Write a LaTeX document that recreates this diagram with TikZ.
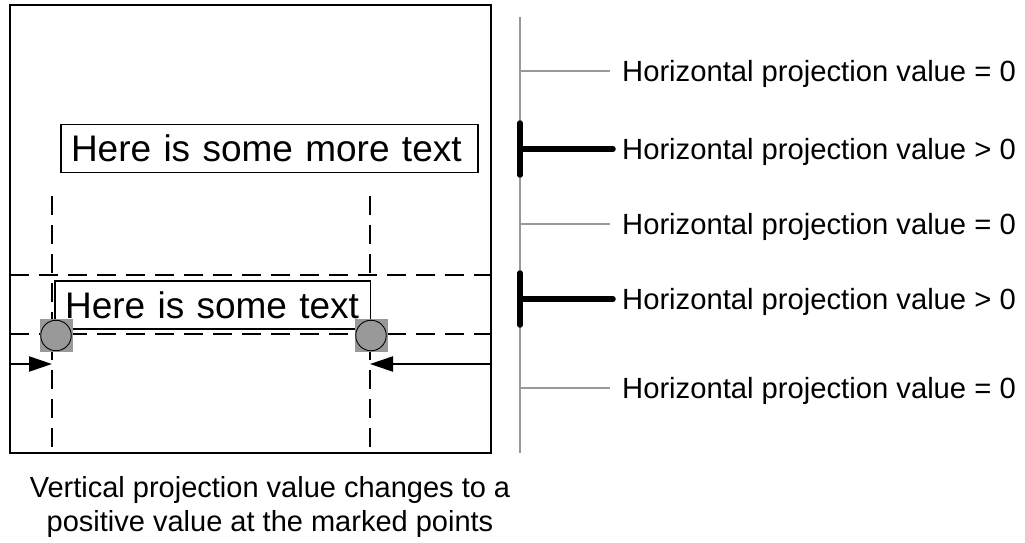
\documentclass[tikz,border=0pt]{standalone}
\usepackage{fontspec}
\setmainfont{Liberation Sans}
\usetikzlibrary{arrows.meta}
\begin{document}
\begin{tikzpicture}[x=1pt,y=-1pt,
  lbl/.style={anchor=base west,inner sep=0pt,font=\fontsize{29.2}{34}\selectfont},
  bigbox/.style={draw,line width=1.4pt,inner ysep=0pt,inner xsep=10pt,align=left,minimum height=48pt,font=\fontsize{37}{40}\selectfont},
  dashline/.style={line width=2.6pt,dash pattern=on 19pt off 10pt},
  grayline/.style={draw=black!40,line width=1.1pt},
  thick T/.style={line width=5.5pt,line cap=round},
  marker/.style={draw=none,fill=black!40,minimum size=33pt,inner sep=0pt},
  dot/.style={circle,draw=black,line width=0.9pt,fill=black!40,minimum size=30.5pt,inner sep=0pt},
  arr/.style={line width=2.2pt,-{Triangle[length=23pt,width=15pt]}}]
\useasboundingbox (0,0) rectangle (1025,542);
% main frame
\draw[line width=1.6pt] (10,5) rectangle (491,453);
% vertical gray axis
\coordinate (axtop) at (520,17);
\coordinate (axbot) at (520,453);
\draw[grayline] (axtop) -- (axbot);
% labels
\node[lbl] (l1) at (622,81) {Horizontal projection value = 0};
\node[lbl] (l2) at (622,159) {Horizontal projection value > 0};
\node[lbl] (l3) at (622,234) {Horizontal projection value = 0};
\node[lbl] (l4) at (622,309) {Horizontal projection value > 0};
\node[lbl] (l5) at (622,398) {Horizontal projection value = 0};
% thin gray ticks
\coordinate (a1) at (520,71);
\coordinate (a3) at (520,224);
\coordinate (a5) at (520,388);
\draw[grayline] (a1) -- ([xshift=-12pt,yshift=10pt]l1.base west);
\draw[grayline] (a3) -- ([xshift=-12pt,yshift=10pt]l3.base west);
\draw[grayline] (a5) -- ([xshift=-12pt,yshift=10pt]l5.base west);
% thick T markers
\coordinate (t2a) at (520,123); \coordinate (t2b) at (520,175); \coordinate (a2) at (520,149);
\coordinate (t4a) at (520,273); \coordinate (t4b) at (520,325); \coordinate (a4) at (520,299);
\draw[thick T] (t2a) -- (t2b);
\draw[thick T] (a2) -- ([xshift=-9pt,yshift=10pt]l2.base west);
\draw[thick T] (t4a) -- (t4b);
\draw[thick T] (a4) -- ([xshift=-9pt,yshift=10pt]l4.base west);
% dashed guide lines
\coordinate (h1a) at (10,275); \coordinate (h1b) at (491,275);
\coordinate (h2a) at (10,334); \coordinate (h2b) at (491,334);
\coordinate (v1a) at (52,196); \coordinate (v1b) at (52,453);
\coordinate (v2a) at (370,196); \coordinate (v2b) at (370,453);
\draw[dashline] (h1a) -- (h1b);
\draw[dashline] (h2a) -- (h2b);
\draw[dashline] (v1a) -- (v1b);
\draw[dashline] (v2a) -- (v2b);
% text boxes
\node[bigbox,fill=white,text width=397pt] (tb1) at (269.5,148.7) {Here is some more text};
\node[bigbox,fill=white,text width=295.7pt] (tb2) at (212.9,304.9) {Here is some text};
% marked points
\node[marker] (m1) at (56,335.5) {};
\node[dot] (d1) at (m1) {};
\node[marker] (m2) at (371,335.5) {};
\node[dot] (d2) at (m2) {};
% arrows
\coordinate (al) at (10,364); \coordinate (alt) at (52,364);
\coordinate (ar) at (491,364); \coordinate (art) at (370,364);
\draw[arr] (al) -- (alt);
\draw[arr] (ar) -- (art);
% caption
\node[inner sep=0pt,align=center,font=\fontsize{29}{34}\selectfont] (cap) at (270,507.4) {Vertical projection value changes to a\\positive value at the marked points};
\end{tikzpicture}
\end{document}
